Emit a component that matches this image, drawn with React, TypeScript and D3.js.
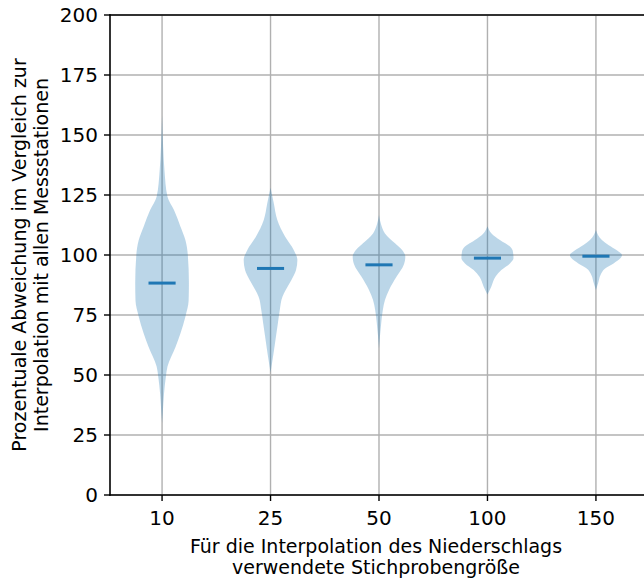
import React, { useEffect, useRef } from "react";
import * as d3 from "d3";

// sample sizes (x categories)
const categories = ["10", "25", "50", "100", "150"];
const yTicks = [0, 25, 50, 75, 100, 125, 150, 175, 200];

// median of each group, % deviation
const medians = [88.3, 94.4, 95.9, 98.7, 99.5];

// violin outlines: [value, relative half-width 0..1]
const profile10 = [
  [158, 0], [145, 0.04], [135, 0.09], [124.3, 0.2], [118.75, 0.44], [111.8, 0.68],
  [106.25, 0.86], [100, 0.95], [88.3, 0.99], [81, 0.98], [74.3, 0.86], [67.4, 0.68],
  [61.8, 0.5], [53.5, 0.2], [49.3, 0.14], [42, 0.07], [35, 0.03], [30, 0]
];
const profile25 = [
  [128, 0], [121.6, 0.12], [114.6, 0.25], [107.6, 0.54], [102, 0.86], [97.9, 0.99],
  [93.75, 0.94], [89.6, 0.77], [85.4, 0.56], [82.6, 0.44], [77, 0.34], [71.5, 0.27],
  [66, 0.2], [59, 0.11], [51, 0]
];
const profile50 = [
  [116.7, 0], [113, 0.07], [109, 0.22], [104.9, 0.59], [102, 0.86], [99.3, 0.97],
  [95.8, 0.91], [91, 0.65], [85.4, 0.37], [81.25, 0.22], [77, 0.14], [71.5, 0.08], [61, 0]
];
const profile100 = [
  [112, 0], [109, 0.15], [106.25, 0.46], [103.5, 0.83], [101.4, 0.94], [98.6, 0.96],
  [96.5, 0.83], [93.75, 0.51], [91, 0.3], [86.8, 0.14], [83.5, 0]
];
const profile150 = [
  [110.4, 0], [106.25, 0.22], [104.2, 0.46], [102, 0.77], [100, 0.96], [98.6, 0.9],
  [96.5, 0.65], [94.4, 0.34], [91.7, 0.17], [88.2, 0.08], [85.4, 0]
];
const profiles = [profile10, profile25, profile50, profile100, profile150];

export default function App() {
  const ref = useRef<SVGSVGElement>(null);

  useEffect(() => {
    document.body.style.margin = "0";
    document.body.style.overflow = "hidden";

    const w = 644;
    const h = 579;
    const left = 110;
    const right = 648;
    const top = 15;
    const bottom = 495;
    const font = "'DejaVu Sans', sans-serif";
    const blue = "#1f77b4";

    const svg = d3.select(ref.current);
    svg.selectAll("*").remove();
    svg.attr("width", w).attr("height", h);

    const x = d3.scaleLinear().domain([0.52, 5.48]).range([left, right]);
    const y = d3.scaleLinear().domain([0, 200]).range([bottom, top]);
    const unit = x(1) - x(0);
    const halfW = d3.scaleLinear().domain([0, 1]).range([0, unit * 0.25]);

    // grid
    svg
      .append("g")
      .selectAll("line")
      .data(yTicks)
      .enter()
      .append("line")
      .attr("x1", left)
      .attr("x2", w)
      .attr("y1", d => y(d))
      .attr("y2", d => y(d))
      .attr("stroke", "#b0b0b0")
      .attr("stroke-width", 1.4);

    svg
      .append("g")
      .selectAll("line")
      .data(categories)
      .enter()
      .append("line")
      .attr("x1", (d, i) => x(i + 1))
      .attr("x2", (d, i) => x(i + 1))
      .attr("y1", top)
      .attr("y2", bottom)
      .attr("stroke", "#b0b0b0")
      .attr("stroke-width", 1.4);

    // violins
    profiles.forEach((p, i) => {
      const cx = x(i + 1);
      const area = d3
        .area<number[]>()
        .y(d => y(d[0]))
        .x0(d => cx - halfW(d[1]))
        .x1(d => cx + halfW(d[1]))
        .curve(d3.curveMonotoneY);
      svg
        .append("path")
        .datum([...p].sort((a, b) => a[0] - b[0]))
        .attr("d", area)
        .attr("fill", blue)
        .attr("fill-opacity", 0.3);
    });

    // median lines
    svg
      .append("g")
      .selectAll("line")
      .data(medians)
      .enter()
      .append("line")
      .attr("x1", (d, i) => x(i + 1) - unit * 0.125)
      .attr("x2", (d, i) => x(i + 1) + unit * 0.125)
      .attr("y1", d => y(d))
      .attr("y2", d => y(d))
      .attr("stroke", blue)
      .attr("stroke-width", 3);

    // spines
    const spine = (x1: number, y1: number, x2: number, y2: number) =>
      svg
        .append("line")
        .attr("x1", x1)
        .attr("y1", y1)
        .attr("x2", x2)
        .attr("y2", y2)
        .attr("stroke", "#000")
        .attr("stroke-width", 1.6)
        .attr("stroke-linecap", "square");
    spine(left, top, w + 2, top);
    spine(left, bottom, w + 2, bottom);
    spine(left, top, left, bottom);

    // y ticks
    const yt = svg.append("g").selectAll("g").data(yTicks).enter().append("g");
    yt.append("line")
      .attr("x1", left - 6)
      .attr("x2", left)
      .attr("y1", d => y(d))
      .attr("y2", d => y(d))
      .attr("stroke", "#000")
      .attr("stroke-width", 1.4);
    yt.append("text")
      .text(d => d)
      .attr("x", left - 12)
      .attr("y", d => y(d))
      .attr("dy", "0.36em")
      .attr("text-anchor", "end")
      .attr("font-family", font)
      .attr("font-size", 20)
      .attr("fill", "#000");

    // x ticks
    const xt = svg.append("g").selectAll("g").data(categories).enter().append("g");
    xt.append("line")
      .attr("x1", (d, i) => x(i + 1))
      .attr("x2", (d, i) => x(i + 1))
      .attr("y1", bottom)
      .attr("y2", bottom + 6)
      .attr("stroke", "#000")
      .attr("stroke-width", 1.4);
    xt.append("text")
      .text(d => d)
      .attr("x", (d, i) => x(i + 1))
      .attr("y", bottom + 30)
      .attr("text-anchor", "middle")
      .attr("font-family", font)
      .attr("font-size", 20)
      .attr("fill", "#000");

    // axis labels
    const xl = svg
      .append("text")
      .attr("text-anchor", "middle")
      .attr("font-family", font)
      .attr("font-size", 19)
      .attr("fill", "#000");
    xl.append("tspan").attr("x", 376).attr("y", 553).text("Für die Interpolation des Niederschlags");
    xl.append("tspan").attr("x", 376).attr("y", 574).text("verwendete Stichprobengröße");

    const yl = svg
      .append("text")
      .attr("transform", `translate(0,${(top + bottom) / 2}) rotate(-90)`)
      .attr("text-anchor", "middle")
      .attr("font-family", font)
      .attr("font-size", 19)
      .attr("fill", "#000");
    yl.append("tspan").attr("x", 0).attr("y", 26).text("Prozentuale Abweichung im Vergleich zur");
    yl.append("tspan").attr("x", 0).attr("y", 48).text("Interpolation mit allen Messstationen");
  }, []);

  return (
    <div>
      <svg ref={ref} style={{ display: "block" }} />
    </div>
  );
}
